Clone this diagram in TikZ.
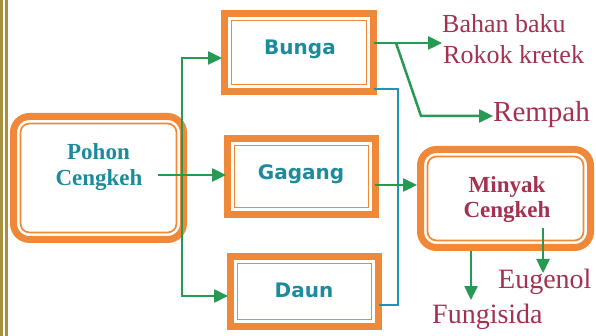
\documentclass[tikz,border=0pt]{standalone}
\usepackage{fontspec}
\setmainfont{Liberation Serif}
\newfontfamily\boxsans{DejaVu Sans}
\usetikzlibrary{arrows.meta,calc}

\definecolor{bandorange}{RGB}{240,136,58}
\definecolor{labelteal}{RGB}{28,140,156}
\definecolor{wine}{RGB}{163,49,79}
\definecolor{arrgreen}{RGB}{38,154,82}
\definecolor{wireteal}{RGB}{26,151,176}
\definecolor{rule}{RGB}{168,144,60}

\tikzset{
  sqbox/.style={draw=bandorange, line width=7pt, inner sep=0pt, rectangle},
  rdbox/.style={sqbox, rounded corners=16pt},
  innerline/.style={draw=bandorange, line width=1.7pt},
  boxlbl/.style={font=\boxsans\bfseries\fontsize{20}{24}\selectfont, text=labelteal, inner sep=0pt, anchor=base},
  serlbl/.style={font=\bfseries\fontsize{23}{26}\selectfont, inner sep=0pt, anchor=base},
  outlbl/.style={text=wine, inner sep=0pt, anchor=base west},
  arr/.style={draw=arrgreen, line width=2.5pt, -{Triangle[length=14pt,width=13pt]}},
  wire/.style={draw=wireteal, line width=2pt},
}

\begin{document}
\begin{tikzpicture}[x=1pt,y=-1pt]
\useasboundingbox (0,0) rectangle (596,336);
\fill[white] (0,0) rectangle (596,336);

% page rule on the left
\draw[rule, line width=3pt] (1.5,0) -- (1.5,336);
\draw[rule, line width=3pt] (6.5,0) -- (6.5,336);

% framed boxes (anchors sit on the outer edge of the thick band)
\node[sqbox, minimum width=149pt, minimum height=78pt] (bunga) at (299,52.5) {};
\node[sqbox, minimum width=148pt, minimum height=76pt] (gagang) at (301.5,176.5) {};
\node[sqbox, minimum width=148pt, minimum height=70pt] (daun) at (304.5,291.5) {};
\node[rdbox, minimum width=170pt, minimum height=123pt] (pohon) at (98.5,178) {};
\node[rdbox, minimum width=170pt, minimum height=98pt] (minyak) at (505.5,198.5) {};

% thin inner frame line of each box
\draw[innerline] ($(bunga.south west)+(10.5pt,10.5pt)$) rectangle ($(bunga.north east)+(-10.5pt,-10.5pt)$);
\draw[innerline] ($(gagang.south west)+(10.5pt,10.5pt)$) rectangle ($(gagang.north east)+(-10.5pt,-10.5pt)$);
\draw[innerline] ($(daun.south west)+(10.5pt,10.5pt)$) rectangle ($(daun.north east)+(-10.5pt,-10.5pt)$);
\draw[innerline, rounded corners=9pt] ($(pohon.south west)+(10.5pt,10.5pt)$) rectangle ($(pohon.north east)+(-10.5pt,-10.5pt)$);
\draw[innerline, rounded corners=9pt] ($(minyak.south west)+(10.5pt,10.5pt)$) rectangle ($(minyak.north east)+(-10.5pt,-10.5pt)$);

% box labels
\node[boxlbl] (bungaT) at (300,55) {Bunga};
\node[boxlbl] (gagangT) at (301,180) {Gagang};
\node[boxlbl] (daunT) at (304,297) {Daun};
\node[serlbl, text=labelteal] (pohonA) at (98.5,160) {Pohon};
\node[serlbl, text=labelteal] (pohonB) at (99,186) {Cengkeh};
\node[serlbl, text=wine] (minyakA) at (507,193) {Minyak};
\node[serlbl, text=wine] (minyakB) at (507,218) {Cengkeh};

% product labels
\node[outlbl, font=\fontsize{26}{30}\selectfont] (bahanA) at (442,33) {Bahan baku};
\node[outlbl, font=\fontsize{26}{30}\selectfont] (bahanB) at (443,64) {Rokok kretek};
\node[outlbl, font=\fontsize{29}{34}\selectfont] (rempah) at (493,122) {Rempah};
\node[outlbl, font=\fontsize{28}{33}\selectfont] (eugenol) at (498,288) {Eugenol};
\node[outlbl, font=\fontsize{28}{33}\selectfont] (fungi) at (432,323) {Fungisida};

% routing points
\coordinate (pStart) at (158,175);
\coordinate (fork) at (182,175);
\coordinate (bRow) at (0,58);
\coordinate (dRow) at (0,296);
\coordinate (bOut) at (373.5,43);
\coordinate (bSplit) at (396,43);
\coordinate (rBend) at (421,116);
\coordinate (tTop) at (398,89);
\coordinate (tBot) at (398,305);
\coordinate (gRow) at (0,185);
\coordinate (fTip) at (471,300);
\coordinate (eStart) at (543,228);
\coordinate (eTip) at (543,273);

% connectors
\draw[arr] (pStart) -- ($(pStart -| gagang.west)+(2pt,0)$);
\draw[arr] (fork) |- ($(bRow -| bunga.west)+(1pt,0)$);
\draw[arr] (fork) |- ($(dRow -| daun.west)+(1pt,0)$);
\draw[arr] (bOut) -- (bOut -| bahanA.west);
\draw[arr] (bSplit) -- (rBend) -- (rBend -| rempah.west);
\draw[wire] ($(tTop -| bunga.east)+(-3pt,0)$) -- (tTop) -- (tBot) -- ($(tBot -| daun.east)+(-3pt,0)$);
\draw[arr] ($(gRow -| gagang.east)+(-4pt,0)$) -- (gRow -| minyak.west);
\draw[arr] (fTip |- minyak.south) -- (fTip);
\draw[arr] (eStart) -- (eTip);
\end{tikzpicture}
\end{document}
